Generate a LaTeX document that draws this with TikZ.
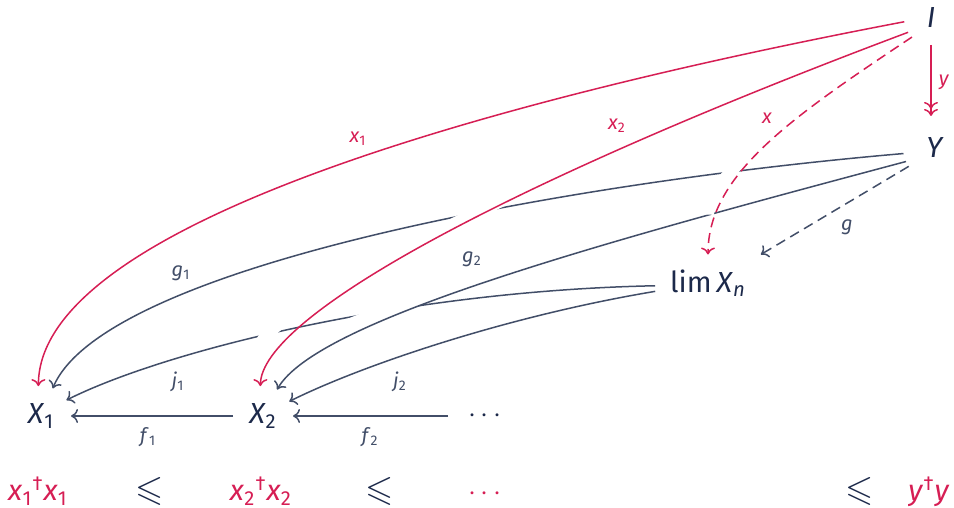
\documentclass[tikz,border=0pt]{standalone}
\usepackage{amssymb}
\usepackage{fontspec}
\setmainfont{Fira Sans}
\usetikzlibrary{arrows.meta}
\definecolor{navy}{RGB}{28,41,74}
\definecolor{slate}{RGB}{66,78,104}
\definecolor{crim}{RGB}{214,30,84}
\newcommand\mi[1]{\textit{#1}}
\newcommand\sbs[1]{\textsubscript{#1}}
\newcommand\myleq{\scalebox{1.25}{$\leqslant$}}
\begin{document}
\begin{tikzpicture}[x=0.5pt,y=0.5pt,
  obj/.style={text=navy, font=\fontsize{14.5}{17}\selectfont, inner sep=0pt, outer sep=0pt},
  lbl/.style={font=\fontsize{10}{12}\selectfont, inner sep=0pt},
  arr/.style={line width=0.75pt, -{To[length=3.5pt,width=7pt]}},
  ed/.style={arr, draw=slate},
  redarr/.style={arr, draw=crim},
  halo/.style={draw=white, line width=6pt, shorten <=20pt, shorten >=20pt},
  dsh/.style={dash pattern=on 5pt off 3pt}
]
\useasboundingbox (0,0) rectangle (954,508);
% objects
\node[obj, circle, minimum size=27pt] (I) at (931,490) {\mi{I}};
\node[obj, circle, minimum size=32pt] (Y) at (935,360) {\mi{Y}};
\node[obj, inner sep=7.5pt] (L) at (708,225) {lim\,\mi{X}\sbs{\mi{n}}};
\node[obj, circle, minimum size=30pt] (X1) at (41,92) {\mi{X}\sbs{1}};
\node[obj, circle, minimum size=30pt] (X2) at (263,92) {\mi{X}\sbs{2}};
\node[obj, inner xsep=10pt] (D) at (485,92) {$\cdots$};
% bottom row
\node[obj, text=crim, anchor=base] (b1) at (38,7) {\mi{x}\sbs{1}\textsuperscript{†}\mi{x}\sbs{1}};
\node[obj, anchor=base] (le1) at (150,7) {\myleq};
\node[obj, text=crim, anchor=base] (b2) at (261,7) {\mi{x}\sbs{2}\textsuperscript{†}\mi{x}\sbs{2}};
\node[obj, anchor=base] (le2) at (380,7) {\myleq};
\node[obj, text=crim, anchor=base] (bd) at (485,7) {$\cdots$};
\node[obj, anchor=base] (le3) at (860,7) {\myleq};
\node[obj, text=crim, anchor=base] (by) at (929,7) {\mi{y}\textsuperscript{†}\mi{y}};
% bottom layer: j maps and f maps
\draw[ed] (L.183) .. controls +(-250,-5) and +(100,50) .. (X1.32);
\draw[ed] (L.189) .. controls +(-150,-25) and +(70,35) .. (X2.29);
\draw[ed] (X2) -- (X1);
\draw[ed] (D) -- (X2);
% g maps crossing over j
\path[halo] (Y.190) .. controls +(-350,-30) and +(50,120) .. (X1.67);
\path[halo] (Y.205) .. controls +(-300,-80) and +(40,70) .. (X2.62);
\draw[ed] (Y.190) .. controls +(-350,-30) and +(50,120) .. (X1.67);
\draw[ed] (Y.205) .. controls +(-300,-80) and +(40,70) .. (X2.62);
\draw[ed, dsh] (Y.215) -- (L.north east);
% red maps crossing over everything
\path[halo] (I.188) .. controls +(-420,-80) and +(0,160) .. (X1.95);
\path[halo] (I.212) .. controls +(-400,-150) and +(0,70) .. (X2.95);
\path[halo] (I.225) .. controls +(-120,-80) and +(0,80) .. (L.north);
\draw[redarr] (I.188) .. controls +(-420,-80) and +(0,160) .. (X1.95);
\draw[redarr] (I.212) .. controls +(-400,-150) and +(0,70) .. (X2.95);
\draw[redarr, dsh] (I.225) .. controls +(-120,-80) and +(0,80) .. (L.north);
\draw[line width=0.75pt, draw=crim, -{To[length=3.5pt,width=7pt] To[length=3.5pt,width=7pt]}] (I.south) -- (I.south |- Y.north);
% labels
\node[lbl, text=crim] (lx1) at (358,369) {\mi{x}\sbs{1}};
\node[lbl, text=crim] (lx2) at (617,382) {\mi{x}\sbs{2}};
\node[lbl, text=crim] (lx) at (767,390) {\mi{x}};
\node[lbl, text=crim] (ly) at (944,426) {\mi{y}};
\node[lbl, text=slate] (lg) at (847,281) {\mi{g}};
\node[lbl, text=slate] (lg1) at (181,235) {\mi{g}\sbs{1}};
\node[lbl, text=slate] (lg2) at (472,249) {\mi{g}\sbs{2}};
\node[lbl, text=slate] (lj1) at (178,126) {\mi{j}\sbs{1}};
\node[lbl, text=slate] (lj2) at (400,126) {\mi{j}\sbs{2}};
\node[lbl, text=slate] (lf1) at (148,71) {\mi{f}\sbs{1}};
\node[lbl, text=slate] (lf2) at (370,71) {\mi{f}\sbs{2}};
\end{tikzpicture}
\end{document}
